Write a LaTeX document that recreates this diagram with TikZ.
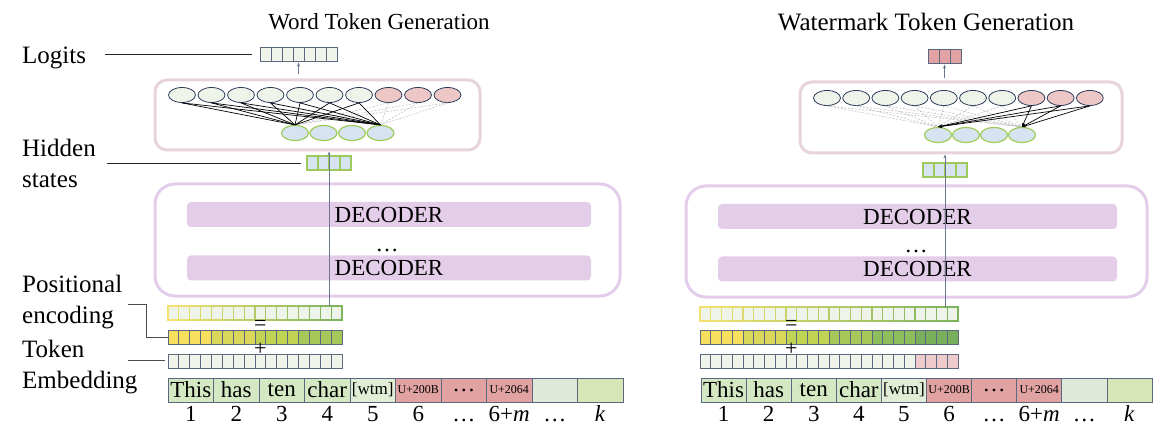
\documentclass[tikz,border=0pt]{standalone}
\usepackage{fontspec}
\setmainfont{Liberation Serif}
\usetikzlibrary{shapes.geometric,arrows.meta,calc}
\definecolor{edge}{HTML}{5B6880}
\definecolor{navy}{HTML}{2E3D5C}
\definecolor{cellbg}{HTML}{EEF4EA}
\definecolor{ovG}{HTML}{EEF4EA}
\definecolor{ovP}{HTML}{EDC6C6}
\definecolor{hgreen}{HTML}{9DCB5B}
\definecolor{hblue}{HTML}{D7E3F0}
\definecolor{lgP}{HTML}{E0A2A2}
\definecolor{emP}{HTML}{EECACA}
\definecolor{arrgray}{HTML}{6B7690}
\definecolor{pinkring}{HTML}{E7D3DB}
\definecolor{decring}{HTML}{E3CDEA}
\definecolor{decbar}{HTML}{E3CDE9}
\definecolor{pY}{HTML}{F3E270}
\definecolor{pG}{HTML}{7FB45E}
\definecolor{peA}{HTML}{F6E05E}
\definecolor{peB}{HTML}{DBD75A}
\definecolor{peC}{HTML}{C0D352}
\definecolor{peD}{HTML}{A5C859}
\definecolor{peE}{HTML}{8EBE5C}
\definecolor{peF}{HTML}{79AE5B}
\definecolor{tkG}{HTML}{D5E8C4}
\definecolor{tkW}{HTML}{E1EDD5}
\definecolor{tkP}{HTML}{E0A3A1}
\definecolor{tkE}{HTML}{DFE8D9}
\definecolor{tkK}{HTML}{D7E5B7}
\newcommand\wtmtag{{\fontsize{17}{17}\selectfont[wtm]}}
\newcommand\ucode[1]{{\fontsize{12}{12}\selectfont U+#1}}
\begin{document}
\begin{tikzpicture}[x=1pt,y=-1pt,
  big/.style = {font=\fontsize{23}{31}\selectfont},
  lab/.style = {font=\fontsize{25}{31}\selectfont,anchor=west,align=left,inner sep=0pt},
  lead/.style = {draw=black!85,line width=0.8pt},
  arr/.style = {draw=arrgray,line width=0.8pt,-{Stealth[length=4pt,width=3pt]}},
  sign/.style = {font=\fontsize{22}{22}\selectfont,inner sep=0pt},
  cell/.style = {rectangle,draw=edge,line width=0.8pt,minimum width=11pt,minimum height=14pt,inner sep=0pt,outer sep=0pt},
  oval/.style = {ellipse,draw=navy,line width=0.8pt,minimum width=27pt,minimum height=15pt,inner sep=0pt},
  hid/.style = {ellipse,draw=hgreen,fill=hblue,line width=1.2pt,minimum width=27pt,minimum height=15pt,inner sep=0pt},
  wire/.style = {draw=black,line width=0.7pt},
  wireoff/.style = {draw=gray!55,dash pattern=on 2pt off 1.5pt,line width=0.5pt},
  ring/.style = {rectangle,rounded corners=12pt,line width=3pt,inner sep=0pt},
  bar/.style = {rectangle,rounded corners=4pt,fill=decbar,minimum height=25pt,inner sep=0pt,big},
  tok/.style = {rectangle,draw=edge,line width=0.8pt,minimum width=45.5pt,minimum height=24pt,inner sep=0pt,outer sep=0pt,big}]
\useasboundingbox (0,0) rectangle (1164,430);
\node[big] (ttlL) at (379,22) {Word Token Generation};
\node[font=\fontsize{25}{28}\selectfont] (ttlR) at (926,22) {Watermark Token Generation};
\node[lab] (lbLog) at (22,58) {Logits};
\node[lab] (lbHid) at (22,163) {Hidden\\states};
\node[lab] (lbPos) at (22,302) {Positional\\encoding};
\node[lab] (lbTok) at (22,367.5) {Token\\Embedding};
\node[ring,draw=decring,minimum width=465pt,minimum height=112pt,rounded corners=20pt] (decL) at (387.5,240) {};
\node[bar,minimum width=404pt] (dcL1) at (389,214.5) {DECODER};
\node[bar,minimum width=404pt] (dcL2) at (389,268) {DECODER};
\node[big] (dotL) at (387,250) {\dots};
\node[ring,draw=decring,minimum width=461pt,minimum height=111pt,rounded corners=20pt] (decR) at (916.5,241.5) {};
\node[bar,minimum width=399pt] (dcR1) at (917.5,216.5) {DECODER};
\node[bar,minimum width=399pt] (dcR2) at (917.5,269) {DECODER};
\node[big] (dotR) at (916,251) {\dots};
\node[ring,draw=pinkring,minimum width=325pt,minimum height=70pt] (pinkL) at (317.5,115) {};
\node[ring,draw=pinkring,minimum width=322pt,minimum height=71pt] (pinkR) at (961,117.5) {};
\foreach \c [count=\i] in {ovG,ovG,ovG,ovG,ovG,ovG,ovG,ovP,ovP,ovP}
    \node[oval,fill=\c] (tL\i) at ({182+29.5*(\i-1)},95) {};
\foreach \c [count=\i] in {ovG,ovG,ovG,ovG,ovG,ovG,ovG,ovP,ovP,ovP}
    \node[oval,fill=\c] (tR\i) at ({827+29.2*(\i-1)},98) {};
\foreach \i in {1,...,4}
    \node[hid] (bL\i) at ({295+28.5*(\i-1)},133) {};
\foreach \i in {1,...,4}
    \node[hid] (bR\i) at ({938+28*(\i-1)},135) {};
\foreach \i in {8,9,10}
    \foreach \j in {1,4}
        \draw[wireoff] (tL\i.south) -- (bL\j.north);
\foreach \i in {1,...,7}
    \foreach \j in {1,4}
        \draw[wire] (tL\i.south) -- (bL\j.north);
\foreach \i in {1,...,7}
    \foreach \j in {1,4}
        \draw[wireoff] (tR\i.south) -- (bR\j.north);
\foreach \i in {8,9,10}
    \foreach \j in {1,4}
        \draw[wire,-{Stealth[length=4pt,width=3pt]}] (tR\i.south) -- (bR\j.north);
\foreach \i in {1,...,7}
    \node[cell,fill=cellbg] (lgL\i) at ({265.5+11*(\i-1)},54.5) {};
\foreach \i in {1,...,3}
    \node[cell,fill=lgP] (lgR\i) at ({933.5+11*(\i-1)},56.5) {};
\foreach \i in {1,...,4}
    \node[cell,draw=hgreen,fill=hblue,line width=1.2pt] (hsL\i) at ({312.5+11*(\i-1)},163) {};
\foreach \i in {1,...,4}
    \node[cell,draw=hgreen,fill=hblue,line width=1.2pt] (hsR\i) at ({928.5+11*(\i-1)},170) {};
\foreach \i in {1,...,16}{
    \pgfmathtruncatemacro\p{100-100*(\i-1)/15}
    \node[cell,draw=pY!\p!pG,fill=cellbg,line width=1.1pt,minimum width=10.875pt] (plL\i) at ({168+10.875*(\i-0.5)},313) {};
}
\foreach \c [count=\i] in {peA,peA,peA,peA,peB,peB,peB,peB,peC,peC,peC,peC,peD,peD,peD,peD}
    \node[cell,fill=\c,minimum width=10.875pt] (peL\i) at ({168+10.875*(\i-0.5)},337) {};
\foreach \i in {1,...,16}
    \node[cell,fill=cellbg,minimum width=10.875pt] (emL\i) at ({168+10.875*(\i-0.5)},361) {};
\foreach \i in {1,...,24}{
    \pgfmathtruncatemacro\p{100-100*(\i-1)/23}
    \node[cell,draw=pY!\p!pG,fill=cellbg,line width=1.1pt,minimum width=10.75pt] (plR\i) at ({700+10.75*(\i-0.5)},314) {};
}
\foreach \c [count=\i] in {peA,peA,peA,peA,peB,peB,peB,peB,peC,peC,peC,peC,peD,peD,peD,peD,peE,peE,peE,peE,peF,peF,peF,peF}
    \node[cell,fill=\c,minimum width=10.75pt] (peR\i) at ({700+10.75*(\i-0.5)},337.5) {};
\foreach \c [count=\i] in {cellbg,cellbg,cellbg,cellbg,cellbg,cellbg,cellbg,cellbg,cellbg,cellbg,cellbg,cellbg,cellbg,cellbg,cellbg,cellbg,cellbg,cellbg,cellbg,cellbg,emP,emP,emP,emP}
    \node[cell,fill=\c,minimum width=10.75pt] (emR\i) at ({700+10.75*(\i-0.5)},361) {};
\node[sign] (eqL) at ($(plL9.south)!0.5!(peL9.north)$) {=};
\node[sign] (plusL) at ($(peL9.south)!0.5!(emL9.north)$) {+};
\node[sign] (eqR) at ($(plR9.south)!0.5!(peR9.north)$) {=};
\node[sign] (plusR) at ($(peR9.south)!0.5!(emR9.north)$) {+};
\foreach \t/\c [count=\i] in {This/tkG,has/tkG,ten/tkG,char/tkG,\wtmtag/tkW,\ucode{200B}/tkP,\dots/tkP,\ucode{2064}/tkP,/tkE,/tkK}
    \node[tok,fill=\c] (tkL\i) at ({168+45.5*(\i-0.5)},390) {\t};
\foreach \t/\c [count=\i] in {This/tkG,has/tkG,ten/tkG,char/tkG,\wtmtag/tkW,\ucode{200B}/tkP,\dots/tkP,\ucode{2064}/tkP,/tkE,/tkK}
    \node[tok,fill=\c,minimum width=45.1pt] (tkR\i) at ({701+45.1*(\i-0.5)},390) {\t};
\foreach \n [count=\i] in {1,2,3,4,5,6,\dots,6+\textit{m},\dots,\textit{k}}
    \node[big,anchor=base,inner sep=0pt] (nL\i) at ($(tkL\i.south)+(0,19)$) {\n};
\foreach \n [count=\i] in {1,2,3,4,5,6,\dots,6+\textit{m},\dots,\textit{k}}
    \node[big,anchor=base,inner sep=0pt] (nR\i) at ($(tkR\i.south)+(0,19)$) {\n};
\coordinate (logP) at (105,54.5);
\coordinate (hsP) at (107,163);
\coordinate (posP) at (128,304);
\coordinate (posK) at (146,304);
\coordinate (tokP) at (128,360);
\draw[lead] (logP) -- (lgL1.west) [shorten >=8pt];
\draw[lead] (hsP) -- (hsL1.west) [shorten >=6pt];
\draw[lead,draw=black!70] (posP) -- (posK) |- (peL1.west);
\draw[lead,draw=black!70,shorten >=3pt] (tokP) -- (tokP -| emL1.west);
\coordinate (upL) at (329,306);
\coordinate (upR) at (945,307);
\draw[arr] (upL) -- (upL |- pinkL.south);
\draw[arr] (upR) -- (upR |- pinkR.south);
\draw[arr,shorten <=4pt,shorten >=1pt] (pinkL.north -| lgL4) -- (lgL4.south);
\draw[arr,shorten <=2pt,shorten >=1pt] (pinkR.north -| lgR2) -- (lgR2.south);
\end{tikzpicture}
\end{document}
